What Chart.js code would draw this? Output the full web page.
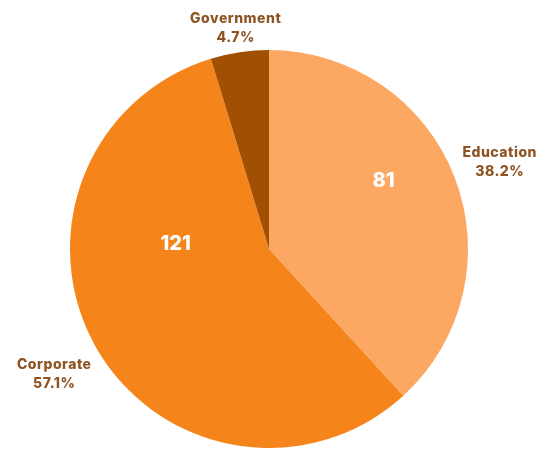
<!DOCTYPE html>
<html>
<head>
<meta charset="utf-8">
<script src="https://cdn.jsdelivr.net/npm/chart.js@4/dist/chart.umd.min.js"></script>
<style>
  html,body{margin:0;padding:0;background:#fff;}
  #wrap{width:546px;height:450px;position:relative;}
</style>
</head>
<body>
<div id="wrap"><canvas id="pie"></canvas></div>
<script>
let labels=["Education","Corporate","Government"];
let counts=[81,121,10];
let colors=["#FDA862","#F5841A","#A04F03"];

let total=counts.reduce((a,b)=>a+b,0);

// where the count sits inside each slice: [fraction along the slice angle, fraction of radius]
let countPos=[[0.43,0.67],[0.66,0.47],null];

let FONT="Inter, 'DejaVu Sans', sans-serif";

// OUTSIDE LABELS + COUNTS
let labelPlugin={
  id:"labels",
  afterDatasetsDraw(chart){
    let ctx=chart.ctx;
    let meta=chart.getDatasetMeta(0);
    meta.data.forEach((arc,i)=>{
      let {x,y,startAngle,endAngle,outerRadius}=arc.getProps(["x","y","startAngle","endAngle","outerRadius"],true);
      let mid=(startAngle+endAngle)/2;
      let dx=Math.cos(mid), dy=Math.sin(mid);

      // outside name + percent
      ctx.save();
      ctx.font="800 14px "+FONT;
      ctx.letterSpacing="0.5px";
      let pct=(counts[i]/total*100).toFixed(1)+"%";
      let w=Math.max(ctx.measureText(labels[i]).width,ctx.measureText(pct).width);
      let h=38;
      let r=outerRadius+Math.abs(dx)*w*0.6+Math.abs(dy)*h/2;
      let cx=x+dx*r, cy=y+dy*r;
      ctx.fillStyle="#8E5424";
      ctx.textAlign="center";
      ctx.textBaseline="middle";
      ctx.fillText(labels[i],cx,cy-7);
      ctx.fillText(pct,cx,cy+12);
      ctx.restore();

      // count inside
      let p=countPos[i];
      if(!p) return;
      let a=startAngle+(endAngle-startAngle)*p[0];
      let rr=outerRadius*p[1];
      ctx.save();
      ctx.font="800 20px "+FONT;
      ctx.fillStyle="#fff";
      ctx.textAlign="center";
      ctx.textBaseline="middle";
      ctx.fillText(counts[i],x+Math.cos(a)*rr,y+Math.sin(a)*rr);
      ctx.restore();
    });
  }
};

new Chart(document.getElementById("pie"),{
  type:"pie",
  data:{labels,datasets:[{data:counts,backgroundColor:colors,borderWidth:0}]},
  options:{
    responsive:true,
    maintainAspectRatio:false,
    animation:false,
    layout:{padding:{left:70,right:78,top:50,bottom:2}},
    plugins:{legend:{display:false},tooltip:{enabled:false}}
  },
  plugins:[labelPlugin]
});
</script>
</body>
</html>
